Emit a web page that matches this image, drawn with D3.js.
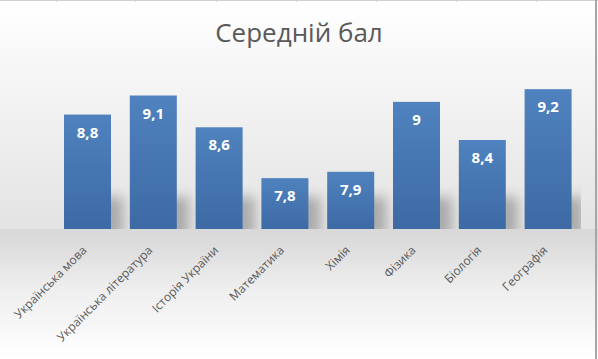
<!DOCTYPE html>
<html><head><meta charset="utf-8">
<script src="https://cdn.jsdelivr.net/npm/d3@7"></script>
<style>html,body{margin:0;padding:0;background:#fff;overflow:hidden}</style>
</head><body>
<svg id="chart" width="598" height="359"></svg>
<script>
const title = "Середній бал";
const categories = ["Українська мова","Українська література","Історія України","Математика","Хімія","Фізика","Біологія","Географія"];
const values = [8.8, 9.1, 8.6, 7.8, 7.9, 9, 8.4, 9.2];
const yDomain = [7, 10];

const W = 598, H = 359;
const svg = d3.select("#chart");
const defs = svg.append("defs");
const plot = {left: 54.6, right: 581, top: 38.3, bottom: 229};

// gradients
const gTop = defs.append("linearGradient").attr("id","bgTop").attr("x1",0).attr("y1",0).attr("x2",0).attr("y2",1);
gTop.append("stop").attr("offset","0%").attr("stop-color","#ffffff");
gTop.append("stop").attr("offset","100%").attr("stop-color","#e3e3e3");
const gBot = defs.append("linearGradient").attr("id","bgBot").attr("x1",0).attr("y1",0).attr("x2",0).attr("y2",1);
gBot.append("stop").attr("offset","0%").attr("stop-color","#d8d8d8");
gBot.append("stop").attr("offset","12%").attr("stop-color","#dcdcdc");
gBot.append("stop").attr("offset","45%").attr("stop-color","#eeeeee");
gBot.append("stop").attr("offset","100%").attr("stop-color","#ffffff");
const gBar = defs.append("linearGradient").attr("id","barGrad").attr("x1",0).attr("y1",0).attr("x2",0).attr("y2",1);
gBar.append("stop").attr("offset","0%").attr("stop-color","#4f82be");
gBar.append("stop").attr("offset","100%").attr("stop-color","#3d6aa5");
const blur = defs.append("filter").attr("id","blur").attr("x","-50%").attr("y","-50%").attr("width","200%").attr("height","200%");
blur.append("feGaussianBlur").attr("stdDeviation",6);
defs.append("clipPath").attr("id","plotClip").append("rect")
  .attr("x",plot.left).attr("y",plot.top).attr("width",plot.right-plot.left).attr("height",plot.bottom-plot.top);

svg.append("rect").attr("x",0).attr("y",0).attr("width",W).attr("height",plot.bottom).attr("fill","url(#bgTop)");
svg.append("rect").attr("x",0).attr("y",plot.bottom).attr("width",W).attr("height",H-plot.bottom).attr("fill","url(#bgBot)");

// spreadsheet frame
svg.append("line").attr("x1",0).attr("x2",W).attr("y1",0.5).attr("y2",0.5).attr("stroke","#d0d0d0");
[56,135,216,296,376,456,536].forEach(x=>{
  svg.append("line").attr("x1",x+0.5).attr("x2",x+0.5).attr("y1",0).attr("y2",2).attr("stroke","#d0d0d0");
});
svg.append("rect").attr("x",595).attr("y",0).attr("width",2).attr("height",H).attr("fill","#a6a6a6");

const x = d3.scaleBand().domain(categories).range([plot.left, plot.right]).paddingInner(0.2857).paddingOuter(0.1429);
const y = d3.scaleLinear().domain(yDomain).range([plot.bottom, plot.top]);

// shadows
const sh = svg.append("g").attr("clip-path","url(#plotClip)");
sh.selectAll("rect").data(values).enter().append("rect")
  .attr("x",(d,i)=>x(categories[i])+12)
  .attr("y",plot.bottom-32)
  .attr("width",x.bandwidth())
  .attr("height",40)
  .attr("fill","#8c8c8c").attr("opacity",0.65)
  .attr("filter","url(#blur)");

// bars
svg.append("g").selectAll("rect").data(values).enter().append("rect")
  .attr("x",(d,i)=>x(categories[i]))
  .attr("y",d=>y(d))
  .attr("width",x.bandwidth())
  .attr("height",d=>plot.bottom-y(d))
  .attr("fill","url(#barGrad)");

const loc = d3.formatLocale({decimal:",", thousands:" ", grouping:[3], currency:["",""]});
const fmt = loc.format(".2~g");
svg.append("g").selectAll("text").data(values).enter().append("text")
  .attr("x",(d,i)=>x(categories[i])+x.bandwidth()/2)
  .attr("y",d=>y(d)+23)
  .attr("text-anchor","middle")
  .attr("font-family","'Open Sans', sans-serif")
  .attr("font-weight","bold")
  .attr("font-size","15px")
  .attr("fill","#ffffff")
  .text(d=>fmt(d));

// x axis labels
const xAxis = d3.axisBottom(x).tickSize(0).tickPadding(0);
const ax = svg.append("g").attr("transform",`translate(0,${plot.bottom})`).call(xAxis);
ax.select(".domain").remove();
ax.selectAll("text")
  .attr("font-family","'Open Sans', sans-serif")
  .attr("font-size","12px")
  .attr("fill","#595959")
  .attr("text-anchor","end")
  .attr("dy",0)
  .attr("transform","translate(0,22) rotate(-45)");

svg.append("text").attr("x",299).attr("y",42)
  .attr("text-anchor","middle")
  .attr("font-family","'Open Sans', sans-serif")
  .attr("font-size","26px")
  .attr("fill","#595959")
  .text(title);
</script>
</body></html>
